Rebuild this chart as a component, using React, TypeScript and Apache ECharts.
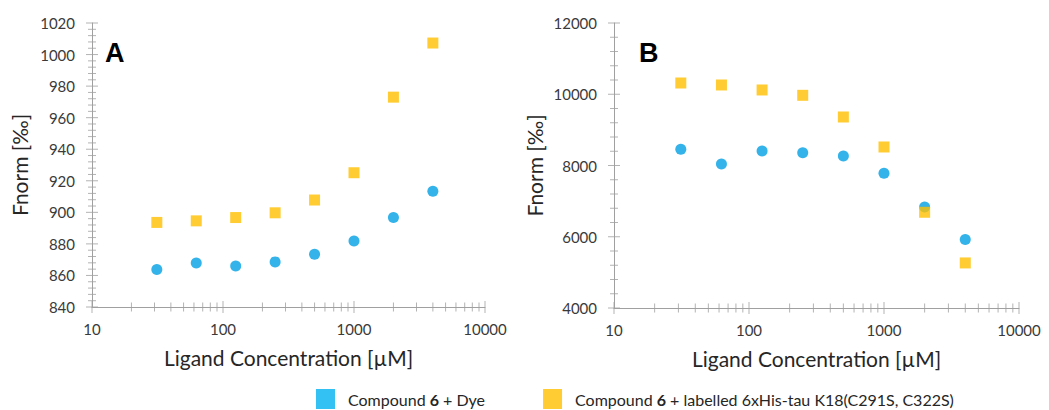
import React, { useEffect, useRef } from "react";
import * as echarts from "echarts";

// Ligand concentrations [µM]
const concentrations = [31.25, 62.5, 125, 250, 500, 1000, 2000, 4000];
// Panel A
const dyeA = [863.7, 867.9, 866.0, 868.6, 873.5, 881.9, 896.7, 913.3];
const tauA = [893.6, 894.6, 896.7, 899.7, 907.8, 925.1, 973.0, 1007.3];
// Panel B
const dyeB = [8455, 8043, 8408, 8361, 8268, 7781, 6836, 5920];
const tauB = [10316, 10260, 10120, 9970, 9362, 8520, 6687, 5265];

const xMajorTicks = [10, 100, 1000, 10000];
const xMinorTicks = [
  20, 30, 40, 50, 60, 70, 80, 90,
  200, 300, 400, 500, 600, 700, 800, 900,
  2000, 3000, 4000, 5000, 6000, 7000, 8000, 9000,
];
const yRangeA = [840, 1020];
const yMajorStepA = 20;
const yMinorStepA = 4;
const yRangeB = [4000, 12000];
const yMajorStepB = 2000;
const yMinorStepB = 400;

const DYE = "dye";
const TAU = "tau";
const BLUE = "#00A0E3";
const ORANGE = "#FFC000";
const AXIS = "#A0A0A0";
const FONT = "Lato";
const LABEL = "#3A3A3A";

function yTicks(range: number[], step: number, majorStep: number, major: boolean) {
  const out: number[][] = [];
  const n = Math.round((range[1] - range[0]) / step);
  for (let i = 0; i <= n; i++) {
    const v = range[0] + i * step;
    const isMajor = Math.abs((v - range[0]) % majorStep) < 1e-9;
    if (isMajor === major) out.push([10, v]);
  }
  return out;
}

const pairs = (ys: number[]) => concentrations.map((c, i) => [c, ys[i]]);

function tickSeries(idx: number, range: number[], step: number, majorStep: number) {
  const base = {
    type: "scatter" as const,
    xAxisIndex: idx,
    yAxisIndex: idx,
    symbol: "rect",
    silent: true,
    clip: false,
    itemStyle: { color: AXIS },
    z: 1,
  };
  return [
    { ...base, name: "xminor" + idx, symbolSize: [1, 9], data: xMinorTicks.map((v) => [v, range[0]]) },
    { ...base, name: "xmajor" + idx, symbolSize: [1, 12], data: xMajorTicks.map((v) => [v, range[0]]) },
    { ...base, name: "yminor" + idx, symbolSize: [8, 1], data: yTicks(range, step, majorStep, false) },
    { ...base, name: "ymajor" + idx, symbolSize: [12, 1], data: yTicks(range, step, majorStep, true) },
  ];
}

export default function App() {
  const ref = useRef<HTMLDivElement>(null);
  useEffect(() => {
    if (!ref.current) return;
    const chart = echarts.init(ref.current, undefined, { renderer: "svg" });
    const xAxisBase = {
      type: "log" as const,
      logBase: 10,
      min: 10,
      max: 10000,
      name: "Ligand Concentration [µM]",
      nameLocation: "middle" as const,
      nameGap: 40,
      nameTextStyle: { fontFamily: FONT, fontSize: 21, color: "#262626" },
      axisLine: { show: true, lineStyle: { color: AXIS, width: 1 } },
      axisTick: { show: false },
      splitLine: { show: false },
      minorTick: { show: false },
      axisLabel: {
        fontFamily: FONT, fontSize: 15, color: LABEL, margin: 14,
        formatter: (v: number) => String(Math.round(v)),
      },
    };
    const yAxisBase = {
      type: "value" as const,
      name: "Fnorm [‰]",
      nameLocation: "middle" as const,
      nameRotate: 90,
      nameTextStyle: { fontFamily: FONT, fontSize: 21, color: "#262626" },
      axisLine: { show: true, lineStyle: { color: AXIS, width: 1 } },
      axisTick: { show: false },
      splitLine: { show: false },
      axisLabel: {
        fontFamily: FONT, fontSize: 15, color: LABEL, margin: 17,
        formatter: (v: number) => String(v),
      },
    };
    chart.setOption({
      animation: false,
      backgroundColor: "#ffffff",
      grid: [
        { left: 92, top: 23, width: 393, height: 284 },
        { left: 614, top: 23, width: 405, height: 285 },
      ],
      xAxis: [
        { ...xAxisBase, gridIndex: 0 },
        { ...xAxisBase, gridIndex: 1 },
      ],
      yAxis: [
        { ...yAxisBase, gridIndex: 0, min: yRangeA[0], max: yRangeA[1], interval: yMajorStepA, nameGap: 62 },
        { ...yAxisBase, gridIndex: 1, min: yRangeB[0], max: yRangeB[1], interval: yMajorStepB, nameGap: 69 },
      ],
      legend: {
        left: 316,
        top: 389,
        padding: 0,
        itemWidth: 19,
        itemHeight: 20,
        itemGap: 58,
        icon: "rect",
        selectedMode: false,
        data: [
          { name: DYE, itemStyle: { color: "#00B0F0" } },
          { name: TAU, itemStyle: { color: ORANGE } },
        ],
        formatter: (name: string) =>
          name === DYE
            ? "{r|Compound }{b|6}{r| + Dye}"
            : "{r|Compound }{b|6}{r| + labelled 6xHis-tau K18(C291S, C322S)}",
        textStyle: {
          padding: [0, 0, 0, 8],
          rich: {
            r: { fontFamily: FONT, fontSize: 16, color: "#262626" },
            b: { fontFamily: FONT, fontSize: 16, fontWeight: "bold", color: "#262626" },
          },
        },
      },
      graphic: [
        { type: "text", left: 105, top: 39, style: { text: "A", font: "bold 27px 'Liberation Sans', Arial", fill: "#000" } },
        { type: "text", left: 639, top: 39, style: { text: "B", font: "bold 27px 'Liberation Sans', Arial", fill: "#000" } },
      ],
      series: [
        ...tickSeries(0, yRangeA, yMinorStepA, yMajorStepA),
        ...tickSeries(1, yRangeB, yMinorStepB, yMajorStepB),
        { name: DYE, type: "scatter", xAxisIndex: 0, yAxisIndex: 0, symbol: "circle", symbolSize: 11, itemStyle: { color: BLUE }, data: pairs(dyeA), z: 3 },
        { name: TAU, type: "scatter", xAxisIndex: 0, yAxisIndex: 0, symbol: "rect", symbolSize: 11, itemStyle: { color: ORANGE }, data: pairs(tauA), z: 3 },
        { name: DYE, type: "scatter", xAxisIndex: 1, yAxisIndex: 1, symbol: "circle", symbolSize: 11, itemStyle: { color: BLUE }, data: pairs(dyeB), z: 3 },
        { name: TAU, type: "scatter", xAxisIndex: 1, yAxisIndex: 1, symbol: "rect", symbolSize: 11, itemStyle: { color: ORANGE }, data: pairs(tauB), z: 4 },
      ],
    });
    return () => chart.dispose();
  }, []);
  return (
    <div
      ref={ref}
      style={{ position: "absolute", left: 0, top: 0, width: 1049, height: 410 }}
    />
  );
}
